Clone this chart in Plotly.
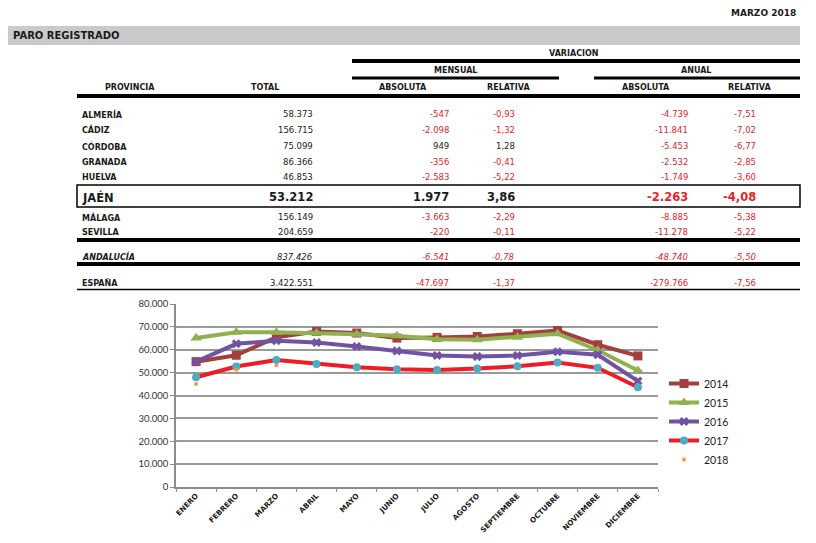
import plotly.graph_objects as go

# ---------------- DATA ----------------
months = ["ENERO", "FEBRERO", "MARZO", "ABRIL", "MAYO", "JUNIO", "JULIO",
          "AGOSTO", "SEPTIEMBRE", "OCTUBRE", "NOVIEMBRE", "DICIEMBRE"]
s2014 = [54800, 57600, 65500, 68000, 67300, 65100, 65400, 65800, 67000, 68400, 62200, 57300]
s2015 = [65100, 67600, 67600, 67300, 66800, 66100, 64600, 64400, 65500, 67000, 59800, 50900]
s2016 = [54800, 62600, 63900, 63200, 61400, 59500, 57500, 57000, 57500, 59100, 57800, 46300]
s2017 = [48000, 52700, 55475, 53800, 52400, 51500, 51200, 51800, 52800, 54400, 52100, 43600]
s2018 = [45000, 51235, 53212, None, None, None, None, None, None, None, None, None]
y_ticks = [0, 10000, 20000, 30000, 40000, 50000, 60000, 70000, 80000]

provincias = ["ALMERÍA", "CÁDIZ", "CÓRDOBA", "GRANADA", "HUELVA", "JAÉN",
              "MÁLAGA", "SEVILLA", "ANDALUCÍA", "ESPAÑA"]
total = [58373, 156715, 75099, 86366, 46853, 53212, 156149, 204659, 837426, 3422551]
mens_abs = [-547, -2098, 949, -356, -2583, 1977, -3663, -220, -6541, -47697]
mens_rel = [-0.93, -1.32, 1.28, -0.41, -5.22, 3.86, -2.29, -0.11, -0.78, -1.37]
anual_abs = [-4739, -11841, -5453, -2532, -1749, -2263, -8885, -11278, -48740, -279766]
anual_rel = [-7.51, -7.02, -6.77, -2.85, -3.60, -4.08, -5.38, -5.22, -5.50, -7.56]

# ---------------- LAYOUT HELPERS ----------------
OFF = 8                     # page body margin of the html page
W, H = 816 - 2 * OFF, 543 - 2 * OFF
def X(px):
    return (px - OFF) / W
def Y(py):
    return 1 - (py - OFF) / H

def fmt_int(v):
    s = f"{abs(v):,}".replace(",", ".")
    return ("-" if v < 0 else "") + s

def fmt_dec(v):
    s = f"{abs(v):.2f}".replace(".", ",")
    return ("-" if v < 0 else "") + s

BLACK = "#1a1a1a"
RED = "#e3242b"
FONT = "DejaVu Sans"

annotations = []
shapes = []

def txt(x, y, text, size=8, color=BLACK, anchor="left", family=FONT):
    annotations.append(dict(x=X(x), y=Y(y), xref="paper", yref="paper", text=text,
                            showarrow=False, xanchor=anchor, yanchor="middle",
                            font=dict(family=family, size=size, color=color)))

def hline(y, x0, x1, w):
    shapes.append(dict(type="line", xref="paper", yref="paper", x0=X(x0), x1=X(x1),
                       y0=Y(y), y1=Y(y), line=dict(color="black", width=w)))

# title parts
txt(798, 13, "<b>MARZO 2018</b>", size=9, anchor="right")
shapes.append(dict(type="rect", xref="paper", yref="paper", x0=X(8), x1=X(800),
                   y0=Y(45), y1=Y(26), fillcolor="#cacaca", line=dict(width=0), layer="below"))
txt(11, 35.5, "<b>PARO REGISTRADO</b>", size=10)

txt(574, 53, "<b>VARIACION</b>", size=8, anchor="center")
hline(61, 352, 800, 4)
txt(455, 70, "<b>MENSUAL</b>", size=8, anchor="center")
txt(696, 70, "<b>ANUAL</b>", size=8, anchor="center")
hline(78, 352, 559, 3)
hline(78, 594, 800, 3)
for cx, lab in [(130, "PROVINCIA"), (265, "TOTAL"), (403, "ABSOLUTA"),
                (508, "RELATIVA"), (646, "ABSOLUTA"), (749, "RELATIVA")]:
    txt(cx, 87, f"<b>{lab}</b>", size=8, anchor="center")
hline(96, 77, 800, 4)

row_y = [114, 130, 146, 162, 177, 197, 217, 232, 257, 283]
for i, name in enumerate(provincias):
    y = row_y[i]
    big = (name == "JAÉN")
    ital = (name == "ANDALUCÍA")
    nsize = 11.5 if big else 8
    vsize = 11.5 if big else 8.5
    def wrap(s, bold=False):
        if big or bold:
            s = f"<b>{s}</b>"
        if ital:
            s = f"<i>{s}</i>"
        return s
    txt(80, y, wrap(name, bold=True), size=nsize)
    txt(315, y, wrap(fmt_int(total[i])), size=vsize, anchor="right")
    vals = [(451, fmt_int(mens_abs[i]), mens_abs[i]),
            (517, fmt_dec(mens_rel[i]), mens_rel[i]),
            (690, fmt_int(anual_abs[i]), anual_abs[i]),
            (758, fmt_dec(anual_rel[i]), anual_rel[i])]
    for xr, s, v in vals:
        txt(xr, y, wrap(s), size=vsize, anchor="right", color=RED if v < 0 else BLACK)

shapes.append(dict(type="rect", xref="paper", yref="paper", x0=X(77), x1=X(800),
                   y0=Y(207), y1=Y(185), line=dict(color="black", width=1.5)))
hline(240, 77, 800, 4)
hline(264, 77, 800, 4)
hline(289.5, 77, 800, 1.5)

# ---------------- CHART ----------------
fig = go.Figure()
fig.add_trace(go.Scatter(x=months, y=s2014, name="2014", mode="lines+markers",
                         line=dict(color="#a3403d", width=4),
                         marker=dict(symbol="square", size=9, color="#a3403d"),
                         legendgroup="a"))
fig.add_trace(go.Scatter(x=months, y=s2015, name="2015", mode="lines+markers",
                         line=dict(color="#8fb24f", width=4),
                         marker=dict(symbol="triangle-up", size=10, color="#8fb24f"),
                         legendgroup="b"))
fig.add_trace(go.Scatter(x=months, y=s2016, name="2016", mode="lines+markers",
                         line=dict(color="#7153a3", width=4),
                         marker=dict(symbol="x", size=8, color="#7153a3"),
                         legendgroup="c"))
fig.add_trace(go.Scatter(x=months, y=s2017, name="2017", mode="lines+markers",
                         line=dict(color="#ee1c25", width=4),
                         marker=dict(symbol="circle", size=8, color="#4bacc6"),
                         legendgroup="d"))
fig.add_trace(go.Scatter(x=months, y=s2018, name="2018", mode="markers",
                         marker=dict(symbol="circle", size=4, color="#f79646"),
                         legendgroup="e"))

fig.update_layout(
    width=W, height=H,
    margin=dict(l=0, r=0, t=0, b=0),
    paper_bgcolor="white", plot_bgcolor="white",
    separators=",.",
    font=dict(family=FONT, color=BLACK),
    showlegend=True,
    legend=dict(x=X(664), y=Y(369), xanchor="left", yanchor="top",
                font=dict(family="Lato", size=10.5, color="#222"),
                bgcolor="rgba(0,0,0,0)", tracegroupgap=0, itemwidth=30),
    xaxis=dict(domain=[X(176), X(658)], type="category", automargin=False,
               showline=True, linecolor="#8c8c8c", linewidth=1.5,
               ticks="outside", ticklen=3, tickcolor="#8c8c8c", tickson="boundaries",
               showgrid=False, tickangle=-45,
               tickfont=dict(family=FONT, size=7.3, color="#1a1a1a", weight="bold"),
               range=[-0.5, 11.5]),
    yaxis=dict(domain=[Y(487), Y(304)], range=[0, 80000], automargin=False,
               tickvals=y_ticks, tickformat=",.0f",
               showline=True, linecolor="#8c8c8c", linewidth=1.5,
               ticks="outside", ticklen=4, tickcolor="#8c8c8c",
               showgrid=True, gridcolor="#9a9a9a", gridwidth=1.5, zeroline=False,
               tickfont=dict(family="Lato", size=9.5, color="#333")),
    annotations=annotations,
    shapes=shapes,
)

fig.write_html("out.html")
